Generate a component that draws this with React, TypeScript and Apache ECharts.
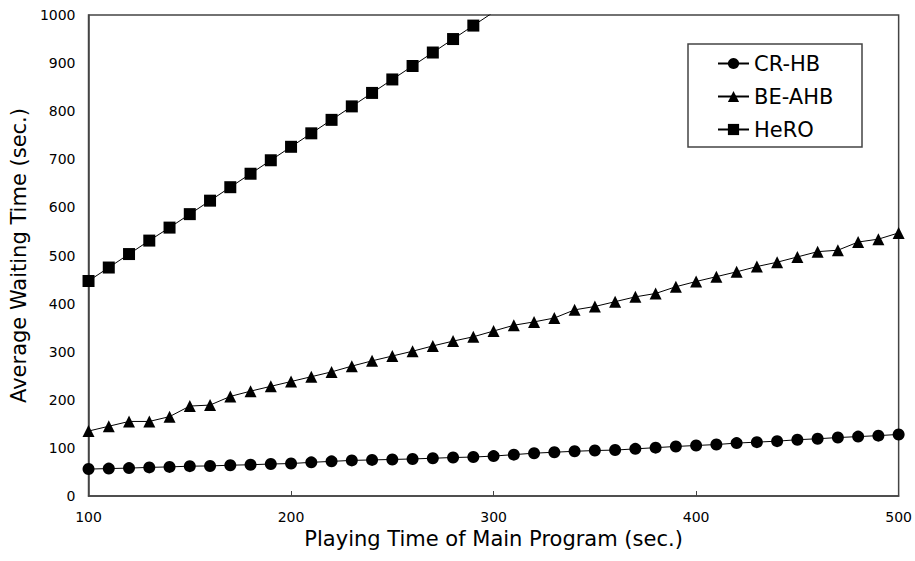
import React, { useEffect, useRef } from "react";
import * as echarts from "echarts";

const xValues = [100, 110, 120, 130, 140, 150, 160, 170, 180, 190, 200, 210, 220, 230, 240, 250, 260, 270, 280, 290, 300, 310, 320, 330, 340, 350, 360, 370, 380, 390, 400, 410, 420, 430, 440, 450, 460, 470, 480, 490, 500];

const crhb = [56, 57, 58, 59.5, 60.5, 62, 62.5, 64, 65, 66.5, 67.5, 70, 72, 74, 75, 76, 77, 78.5, 80, 81, 83, 86, 89, 91, 93, 94.5, 95.5, 98, 100.5, 103, 105, 107, 110, 112, 114, 117, 119, 121.5, 123.5, 125.5, 128];

const beahb = [135, 145, 155, 155, 165, 187, 189, 207, 218, 228, 238, 248, 258, 270, 281, 291, 301, 312, 322, 331, 343, 355, 362, 370, 387, 394, 404, 414, 421, 435, 446, 456, 466, 477, 486, 497, 508, 511, 528, 534, 547];

const hero = [447, 475, 503, 531, 558, 586, 614, 642, 670, 698, 726, 754, 782, 810, 838, 866, 894, 922, 950, 978, 1006];

const seriesNames = ["CR-HB", "BE-AHB", "HeRO"];

const FONT = "'DejaVu Sans', sans-serif";

export default function App() {
  const ref = useRef<HTMLDivElement>(null);
  useEffect(() => {
    if (!ref.current) return;
    const chart = echarts.init(ref.current, null, { renderer: "svg" });
    const pair = (ys: number[]) => ys.map((y, i) => [xValues[i], y]);
    const common = {
      type: "line",
      color: "#000",
      lineStyle: { color: "#000", width: 1 },
      itemStyle: { color: "#000" },
      symbolSize: 12,
      clip: true,
      z: 3,
    };
    chart.setOption({
      animation: false,
      textStyle: { fontFamily: FONT },
      grid: {
        left: 86,
        top: 15,
        right: 16,
        bottom: 65,
        show: true,
        borderColor: "#444",
        borderWidth: 1.5,
      },
      xAxis: {
        type: "value",
        min: 100,
        max: 500,
        interval: 100,
        name: "Playing Time of Main Program (sec.)",
        nameLocation: "middle",
        nameGap: 24,
        nameTextStyle: { fontSize: 21, color: "#000", fontFamily: FONT },
        axisLine: { show: true, lineStyle: { color: "#444", width: 1.5 } },
        axisTick: { show: true, inside: true, length: 5, lineStyle: { color: "#444" } },
        axisLabel: { fontSize: 14, color: "#000", margin: 14, fontFamily: FONT },
        splitLine: { show: false },
      },
      yAxis: {
        type: "value",
        min: 0,
        max: 1000,
        interval: 100,
        name: "Average Waiting Time (sec.)",
        nameLocation: "middle",
        nameGap: 54,
        nameTextStyle: { fontSize: 21, color: "#000", fontFamily: FONT },
        axisLine: { show: true, lineStyle: { color: "#444", width: 1.5 } },
        axisTick: { show: false },
        axisLabel: { fontSize: 14, color: "#000", margin: 13, fontFamily: FONT, formatter: (v: number) => String(v) },
        splitLine: { show: false },
      },
      legend: {
        left: 712,
        top: 48,
        orient: "vertical",
        itemWidth: 31,
        itemHeight: 14,
        itemGap: 12,
        z: 20,
        textStyle: { fontSize: 21, lineHeight: 21, color: "#000", fontFamily: FONT },
        data: seriesNames,
      },
      graphic: [
        {
          type: "rect",
          shape: { x: 688, y: 44, width: 174, height: 103 },
          style: { fill: "#fff", stroke: "#444", lineWidth: 1.5 },
          z: 1,
          zlevel: 0,
        },
      ],
      series: [
        { ...common, name: seriesNames[0], symbol: "circle", data: pair(crhb) },
        { ...common, name: seriesNames[1], symbol: "triangle", data: pair(beahb) },
        { ...common, name: seriesNames[2], symbol: "rect", data: pair(hero) },
      ],
    });
    return () => chart.dispose();
  }, []);
  return <div ref={ref} style={{ width: 915, height: 561, position: "absolute", left: 0, top: 0, background: "#fff" }} />;
}
